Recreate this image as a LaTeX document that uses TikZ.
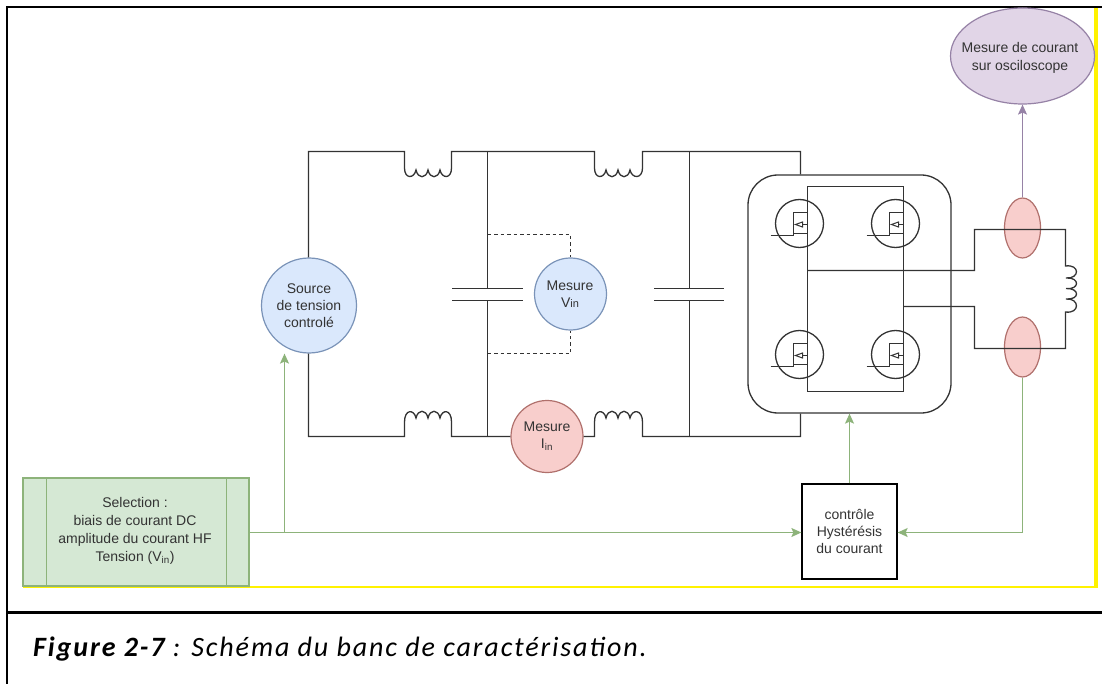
\documentclass[tikz,border=0pt]{standalone}
\usepackage{fontspec}
\setmainfont{Liberation Sans}
\newfontfamily\capfont[LetterSpace=6.8]{Carlito}
\usetikzlibrary{arrows.meta,shapes.geometric}
\definecolor{gfill}{HTML}{D5E8D4}
\definecolor{gline}{HTML}{8DB37A}
\definecolor{bfill}{HTML}{DAE8FC}
\definecolor{bline}{HTML}{7A93B8}
\definecolor{rfill}{HTML}{F8CECC}
\definecolor{rline}{HTML}{B0706C}
\definecolor{pfill}{HTML}{E1D5E7}
\definecolor{pline}{HTML}{9682A6}
\definecolor{ink}{HTML}{333333}
\tikzset{
  x=1pt,y=-1pt,
  wire/.style={draw=ink,line width=1.3pt},
  dwire/.style={draw=ink,line width=1.2pt,dash pattern=on 3.5pt off 3pt},
  garrow/.style={draw=gline,line width=1.2pt,-{Stealth[length=10pt,width=9pt,inset=2pt]}},
  parrow/.style={draw=pline,line width=1.2pt,-{Stealth[length=10pt,width=9pt,inset=2pt]}},
  txt/.style={text=ink,font=\fontsize{14}{17.3}\selectfont,align=center,inner sep=0pt},
  round/.style={circle,inner sep=0pt,line width=1.2pt},
  bluec/.style={round,fill=bfill,draw=bline},
  redc/.style={round,fill=rfill,draw=rline},
  probe/.style={ellipse,fill=rfill,draw=rline,line width=1.2pt,inner sep=0pt},
  frameline/.style={draw=black,line width=2.4pt},
  yline/.style={draw=yellow},
}
\newcommand{\mos}[2]{%
  \begin{scope}[shift={(#1,#2)}]
    \draw[wire] (0,0) circle (24);
    \draw[wire] (-29,12) -- (-6,12) -- (-6,-11) -- (8,-11);
    \draw[wire] (-6,10) -- (8,10);
    \draw[wire] (-4,1) -- (8,1);
    \draw[draw=ink,line width=1pt,fill=white] (-4,1) -- (3,-1.5) -- (3,3.5) -- cycle;
  \end{scope}}
\begin{document}
\begin{tikzpicture}
\useasboundingbox (0,0) rectangle (1102,684);
\fill[white] (0,0) rectangle (1102,684);
% page frame
\draw[yline,line width=3.7pt] (1096,8) -- (1096,588);
\draw[yline,line width=2pt] (23,587) -- (1097.8,587);
\draw[frameline] (7,684) -- (7,7) -- (1102,7);
\draw[frameline] (7,612.5) -- (1102,612.5);
% top and bottom wires
\coordinate (tl) at (308.5,151.5);
\coordinate (bl) at (308.5,436.5);
\coordinate (tr) at (800.5,151.5);
\coordinate (br) at (800.5,436.5);
% rounded block
\node[draw=ink,line width=1.3pt,rounded corners=30pt,minimum width=203pt,minimum height=238pt,inner sep=0pt] (block) at (849.5,294) {};
% source
\node[bluec,minimum size=95pt] (src) at (309,305.5) {};
\node[txt] at (src) {Source\\de tension\\controlé};
\draw[wire] (src.north -| tl) -- (tl) -- (404.5,151.5) -- (404.5,168)
  .. controls (404.5,179) and (414,179) .. (416,170)
  .. controls (418,179) and (426,179) .. (428,170)
  .. controls (430,179) and (438,179) .. (440,170)
  .. controls (442,179) and (451.5,179) .. (451.5,168)
  -- (451.5,151.5) -- (594.5,151.5) -- (594.5,168)
  .. controls (594.5,179) and (604,179) .. (606,170)
  .. controls (608,179) and (616,179) .. (618,170)
  .. controls (620,179) and (628,179) .. (630,170)
  .. controls (632,179) and (642.5,179) .. (642.5,168)
  -- (642.5,151.5) -- (tr) -- (tr |- block.north);
\node[redc,minimum size=72pt] (iin) at (547,436.5) {};
\node[txt] at (547,436) {Mesure\\I\textsubscript{in}};
\draw[wire] (src.south -| bl) -- (bl) -- (404.5,436.5) -- (404.5,422)
  .. controls (404.5,409) and (414,409) .. (416,418)
  .. controls (418,409) and (426,409) .. (428,418)
  .. controls (430,409) and (438,409) .. (440,418)
  .. controls (442,409) and (451.5,409) .. (451.5,422)
  -- (451.5,436.5) -- (iin.west);
\draw[wire] (iin.east) -- (594.5,436.5) -- (594.5,422)
  .. controls (594.5,409) and (604,409) .. (606,418)
  .. controls (608,409) and (616,409) .. (618,418)
  .. controls (620,409) and (628,409) .. (630,418)
  .. controls (632,409) and (642.5,409) .. (642.5,422)
  -- (642.5,436.5) -- (br) -- (br |- block.south);
% capacitors
\draw[wire] (487.5,151.5) -- (487.5,288.5);
\draw[wire] (487.5,300.5) -- (487.5,436.5);
\draw[wire] (452,288.5) -- (523,288.5);
\draw[wire] (452,300.5) -- (523,300.5);
\draw[wire] (689.5,151.5) -- (689.5,288.5);
\draw[wire] (689.5,300.5) -- (689.5,436.5);
\draw[wire] (654,288.5) -- (724,288.5);
\draw[wire] (654,300.5) -- (724,300.5);
% Vin
\node[bluec,minimum size=72pt] (vin) at (570.5,294) {};
\node[txt] at (570,294) {Mesure\\V{\fontsize{11}{11}\selectfont in}};
\draw[dwire] (487.5,234.5) -- (570.5,234.5) -- (vin.north);
\draw[dwire] (487.5,353.5) -- (570.5,353.5) -- (vin.south);
% bridge
\draw[wire] (807.5,186.5) rectangle (903.5,391.5);
\mos{799.5}{223.5}\mos{895.5}{223.5}\mos{799.5}{354.5}\mos{895.5}{354.5}
% probes under the load wires
\node[probe,minimum width=36pt,minimum height=60pt] (p1) at (1022.5,228) {};
\node[probe,minimum width=36pt,minimum height=60pt] (p2) at (1022.5,347) {};
% load
\draw[wire] (807.5,270.5) -- (974.5,270.5) -- (974.5,229.5) -- (1065.5,229.5) -- (1065.5,266)
  .. controls (1080,264) and (1080,279) .. (1066,278)
  .. controls (1080,277) and (1080,290) .. (1066,288.5)
  .. controls (1080,288) and (1080,300) .. (1066,299)
  .. controls (1080,298) and (1080,314) .. (1065.5,312)
  -- (1065.5,348.5) -- (974.5,348.5) -- (974.5,306.5) -- (903.5,306.5);
% oscilloscope
\node[ellipse,fill=pfill,draw=pline,line width=1.2pt,minimum width=144pt,minimum height=96pt,inner sep=0pt] (osc) at (1022.5,56) {};
\node[txt] at (1020,58) {Mesure de courant\\sur osciloscope};
\draw[parrow] (p1.north) -- (osc.south);
% selection
\node[draw=gline,fill=gfill,line width=1.2pt,minimum width=226pt,minimum height=108pt,inner sep=0pt] (sel) at (136,532) {};
\draw[draw=gline,line width=1.2pt] (46.5,478) -- (46.5,586) (226.5,478) -- (226.5,586);
\node[txt,font=\fontsize{14}{18}\selectfont] at (135,530.5) {Selection :\\biais de courant DC\\amplitude du courant HF\\Tension (V\textsubscript{in})};
% control
\node[draw=black,fill=white,line width=1.3pt,minimum width=95pt,minimum height=95pt,inner sep=0pt] (ctl) at (849.5,531.5) {};
\node[txt] at (ctl) {contrôle\\Hystérésis\\du courant};
\coordinate (tap) at (284.5,532.5);
\draw[garrow] (sel.east |- tap) -- (ctl.west |- tap);
\draw[garrow] (tap) -- (tap |- src.south);
\draw[garrow] (ctl.north) -- (ctl.north |- block.south);
\draw[garrow] (p2.south) -- (p2.south |- tap) -- (ctl.east |- tap);
% caption
\node[anchor=west,inner sep=0pt,font=\capfont\fontsize{28}{32}\selectfont\itshape] (cap) at (33,649) {\textbf{Figure 2-7} : Schéma du banc de caractérisation.};
\end{tikzpicture}
\end{document}
